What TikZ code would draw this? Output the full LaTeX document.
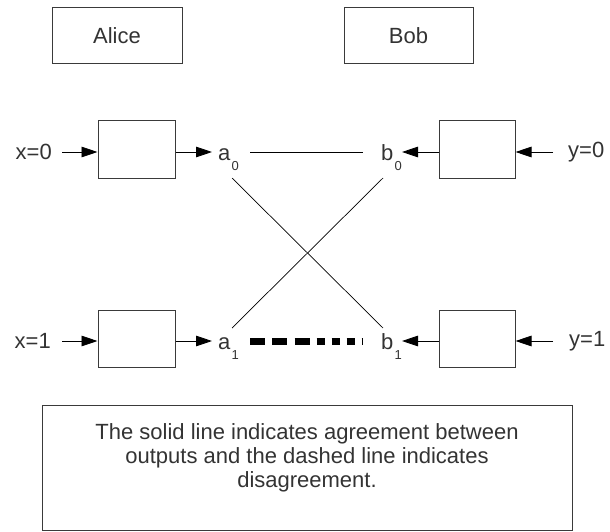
\documentclass[tikz,border=0pt]{standalone}
\usepackage{fontspec}
\setmainfont{Liberation Sans}
\usetikzlibrary{arrows.meta}
\definecolor{ink}{HTML}{333333}
\definecolor{frame}{HTML}{3A3A3A}
\begin{document}
\begin{tikzpicture}[x=1pt,y=-1pt,
  every node/.style={font=\fontsize{22}{24}\selectfont, text=ink},
  box/.style={draw=frame, line width=1pt, fill=white, inner sep=0pt},
  lbl/.style={inner sep=0pt},
  arr/.style={draw=black, line width=0.8pt, -{Triangle[length=16pt,width=10.5pt]}},
  link/.style={draw=black, line width=0.7pt},
  gap/.style={draw=black, line width=7pt,
    dash pattern=on 15pt off 7pt on 15pt off 7.5pt on 15pt off 7pt on 8pt off 7pt on 8pt off 7pt on 8pt off 7pt on 1pt off 50pt}
]
\useasboundingbox (0,0) rectangle (610,532);
% letter with a small, well lowered index
\newcommand{\sub}[2]{#1\kern1.2pt\raisebox{-10pt}{\fontsize{13}{13}\selectfont#2}}

% party names
\node[box, minimum width=130pt, minimum height=56pt] (alice) at (117,36) {Alice};
\node[box, minimum width=129pt, minimum height=56pt] (bob) at (408.5,36) {Bob};

% measurement boxes
\node[box, minimum width=77pt, minimum height=57pt] (ma0) at (136.5,149.5) {};
\node[box, minimum width=76pt, minimum height=57pt] (mb0) at (477,149.5) {};
\node[box, minimum width=77pt, minimum height=57pt] (ma1) at (136.5,338.5) {};
\node[box, minimum width=76pt, minimum height=57pt] (mb1) at (477,338.5) {};

% inputs
\node[lbl, anchor=east] (x0) at (52,152) {x=0};
\node[lbl, anchor=east] (x1) at (51,341) {x=1};
\node[lbl, anchor=west] (y0) at (568,152) {y=0};
\node[lbl, anchor=west] (y1) at (569,341) {y=1};

% outputs
\node[lbl, anchor=base west] (a0) at (218,160) {\sub{a}{0}};
\node[lbl, anchor=base west] (a1) at (218,349) {\sub{a}{1}};
\node[lbl, anchor=base west] (b0) at (381,160) {\sub{b}{0}};
\node[lbl, anchor=base west] (b1) at (381,349) {\sub{b}{1}};

% arrow end points
\coordinate (x0s) at (62,152);
\coordinate (x1s) at (62,341);
\coordinate (y0s) at (553,152);
\coordinate (y1s) at (553,341);
\coordinate (a0t) at (212,152);
\coordinate (a1t) at (212,341);
\coordinate (b0t) at (402,152);
\coordinate (b1t) at (402,341);

\draw[arr] (x0s) -- (x0s -| ma0.west);
\draw[arr] (x1s) -- (x1s -| ma1.west);
\draw[arr] (y0s) -- (y0s -| mb0.east);
\draw[arr] (y1s) -- (y1s -| mb1.east);
\draw[arr] (a0t -| ma0.east) -- (a0t);
\draw[arr] (a1t -| ma1.east) -- (a1t);
\draw[arr] (b0t -| mb0.west) -- (b0t);
\draw[arr] (b1t -| mb1.west) -- (b1t);

% correlation lines
\coordinate (a0r) at (250,152);
\coordinate (b0l) at (363,152);
\coordinate (a1r) at (250,341);
\coordinate (b1l) at (364,341);
\coordinate (a0d) at (232,178);
\coordinate (b0d) at (383,178);
\coordinate (a1u) at (232,328);
\coordinate (b1u) at (383,328);

\draw[link] (a0r) -- (b0l);
\draw[link] (a0d) -- (b1u);
\draw[link] (b0d) -- (a1u);
\draw[gap] (a1r) -- (b1l);

% legend
\draw[draw=frame, line width=1pt] (42,405) rectangle (572,530);
\node[lbl, anchor=north, align=center] (legend) at (307,423)
  {The solid line indicates agreement between\\
   outputs and the dashed line indicates\\
   disagreement.};
\end{tikzpicture}
\end{document}
